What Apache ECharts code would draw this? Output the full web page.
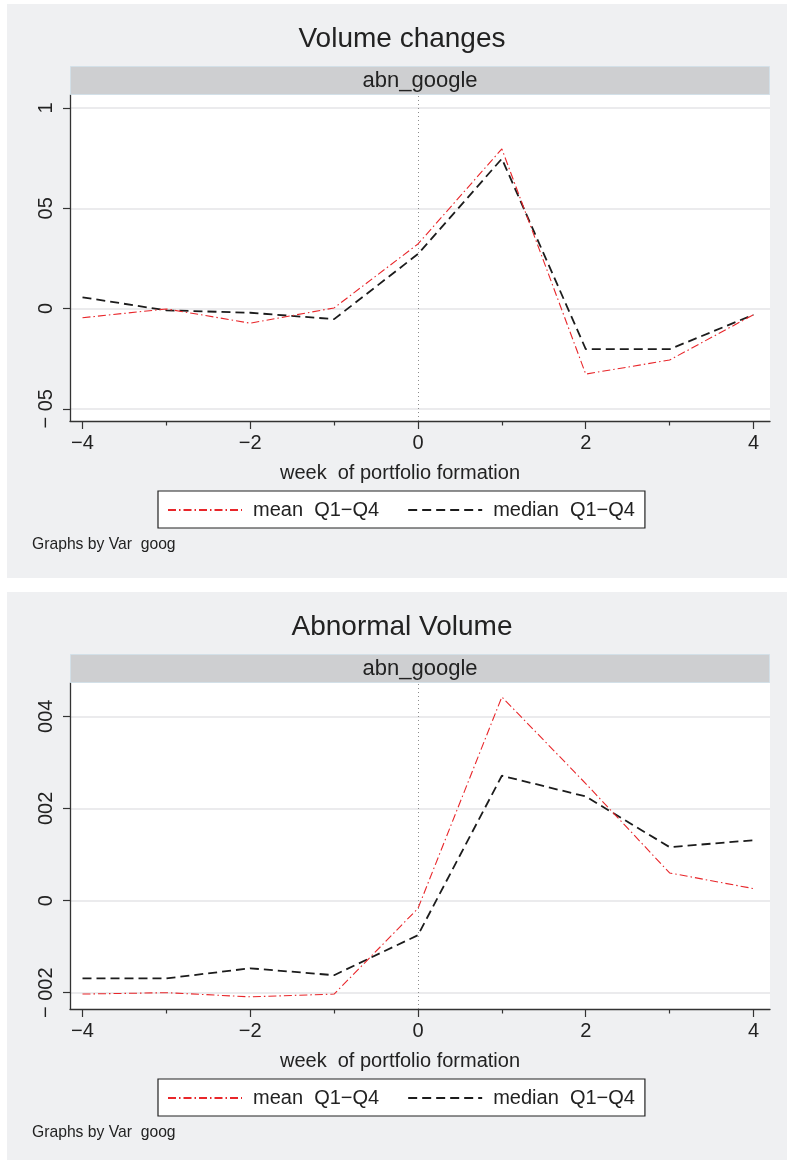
<!DOCTYPE html>
<html>
<head>
<meta charset="utf-8">
<script src="https://cdn.jsdelivr.net/npm/echarts@6/dist/echarts.min.js"></script>
<style>
html,body{margin:0;padding:0;background:#ffffff;}
#c{width:787px;height:1160px;}
</style>
</head>
<body>
<div id="c"></div>
<script>
// ---------------- data ----------------
const weeks = [-4, -3, -2, -1, 0, 1, 2, 3, 4];
const volMean   = [-0.0046, -0.0002, -0.0073, 0.0003, 0.0322, 0.0796, -0.0327, -0.0257, -0.0031];
const volMedian = [0.0056, -0.0009, -0.0021, -0.0053, 0.0272, 0.0747, -0.0202, -0.0203, -0.0031];
const abnMean   = [-0.00203, -0.00200, -0.00209, -0.00203, -0.00017, 0.00442, 0.00254, 0.00060, 0.00026];
const abnMedian = [-0.00169, -0.00169, -0.00147, -0.00162, -0.00075, 0.00271, 0.00226, 0.00116, 0.00131];

const xMajorTicks = [-4, -2, 0, 2, 4];
const xMajorLabels = ['\u22124', '\u22122', '0', '2', '4'];
const xMinorTicks = [-3, -1, 1, 3];
const volTicks = [-0.05, 0, 0.05, 0.1];
const volTickLabels = ['\u2212 05', '0', '05', '1'];
const abnTicks = [-0.002, 0, 0.002, 0.004];
const abnTickLabels = ['\u2212 002', '0', '002', '004'];

const titles = ['Volume changes', 'Abnormal Volume'];
const stripLabel = 'abn_google';
const xTitle = 'week  of portfolio formation';
const seriesNames = ['mean  Q1\u2212Q4', 'median  Q1\u2212Q4'];
const noteText = 'Graphs by Var  goog';

// ---------------- layout / style ----------------
const FONT = '"Liberation Sans", Arial, Helvetica, sans-serif';
const TXT = '#222222';
const offs = [0, 588];
const yRanges = [[-0.0561, 0.1065], [-0.002354, 0.004723]];
const xRange = [-4.149, 4.197];
const yTickSets = [volTicks, abnTicks];
const yLabelSets = [volTickLabels, abnTickLabels];
const seriesData = [[volMean, volMedian], [abnMean, abnMedian]];

function lookup(ticks, labels, v) {
  for (let i = 0; i < ticks.length; i++) {
    if (Math.abs(ticks[i] - v) < 1e-9) return labels[i];
  }
  return '';
}

const grid = [], xAxis = [], yAxis = [], series = [], legend = [], graphicEls = [];

[0, 1].forEach(function (p) {
  const o = offs[p];
  grid.push({left: 70, top: 95 + o, width: 700, height: 326, show: true,
             backgroundColor: '#ffffff', borderWidth: 0, containLabel: false});
  xAxis.push({
    type: 'value', gridIndex: p, min: xRange[0], max: xRange[1],
    axisLine: {show: true, onZero: false, lineStyle: {color: '#333333', width: 1.3}},
    axisTick: {show: true, length: 8, customValues: xMajorTicks, lineStyle: {color: '#333333', width: 1.2}},
    axisLabel: {show: true, customValues: xMajorTicks, margin: 12, fontSize: 20, color: TXT, fontFamily: FONT,
      formatter: function (v) { return lookup(xMajorTicks, xMajorLabels, v); }},
    splitLine: {show: false}
  });
  const yt = yTickSets[p], yl = yLabelSets[p];
  yAxis.push({
    type: 'value', gridIndex: p, min: yRanges[p][0], max: yRanges[p][1],
    axisLine: {show: true, onZero: false, lineStyle: {color: '#333333', width: 1.3}},
    axisTick: {show: true, length: 7, customValues: yt, lineStyle: {color: '#333333', width: 1.2}},
    axisLabel: {show: true, customValues: yt, rotate: 90, margin: 14, fontSize: 20, color: TXT, fontFamily: FONT,
      formatter: function (v) { return lookup(yt, yl, v); }},
    splitLine: {show: true, lineStyle: {color: '#e4e5e7', width: 1.5}}
  });
  const d = seriesData[p];
  series.push({
    name: seriesNames[0], type: 'line', xAxisIndex: p, yAxisIndex: p,
    data: weeks.map(function (w, i) { return [w, d[0][i]]; }),
    symbol: 'none', z: 4,
    itemStyle: {color: 'rgba(0,0,0,0)'},
    lineStyle: {color: '#e8262a', width: 1.1, type: [8, 3, 1.5, 3]},
    markLine: {silent: true, symbol: 'none', label: {show: false},
      lineStyle: {color: '#8c8c8c', type: [1, 3], width: 1},
      data: [{xAxis: 0}]}
  });
  series.push({
    name: seriesNames[1], type: 'line', xAxisIndex: p, yAxisIndex: p,
    data: weeks.map(function (w, i) { return [w, d[1][i]]; }),
    symbol: 'none', z: 3,
    itemStyle: {color: 'rgba(0,0,0,0)'},
    lineStyle: {color: '#1c1c1c', width: 1.8, type: [9, 5]}
  });
  legend.push({
    left: 158, top: 491 + o, orient: 'horizontal', data: seriesNames,
    itemWidth: 74, itemHeight: 14, itemGap: 28,
    padding: [9, 10, 8, 9],
    backgroundColor: '#ffffff', borderColor: '#222222', borderWidth: 1.2,
    selectedMode: false,
    itemStyle: {opacity: 0},
    textStyle: {fontSize: 20, color: TXT, fontFamily: FONT, padding: [0, 0, 0, 6]}
  });
  graphicEls.push({type: 'rect', z: -100, silent: true,
    shape: {x: 7, y: 4 + o, width: 780, height: 574}, style: {fill: '#eff0f2'}});
  graphicEls.push({type: 'rect', z: 10, silent: true,
    shape: {x: 70.5, y: 66.5 + o, width: 699, height: 28},
    style: {fill: '#cecfd1', stroke: '#d3e0e8', lineWidth: 1}});
  graphicEls.push({type: 'text', z: 11, silent: true, x: 420, y: 81 + o,
    style: {text: stripLabel, fill: TXT, font: '22px ' + FONT, textAlign: 'center', textVerticalAlign: 'middle'}});
  graphicEls.push({type: 'text', z: 11, silent: true, x: 402, y: 39 + o,
    style: {text: titles[p], fill: TXT, font: '28px ' + FONT, textAlign: 'center', textVerticalAlign: 'middle'}});
  graphicEls.push({type: 'text', z: 11, silent: true, x: 400, y: 473 + o,
    style: {text: xTitle, fill: TXT, font: '20px ' + FONT, textAlign: 'center', textVerticalAlign: 'middle'}});
  graphicEls.push({type: 'text', z: 11, silent: true, x: 32, y: 545 + o,
    style: {text: noteText, fill: TXT, font: '15.7px ' + FONT, textAlign: 'left', textVerticalAlign: 'middle'}});
});

// overlay grids for the minor x ticks (same geometry as main grids)
[0, 1].forEach(function (p) {
  const o = offs[p];
  const gi = grid.length;
  grid.push({left: 70, top: 95 + o, width: 700, height: 326, show: false});
  xAxis.push({
    type: 'value', gridIndex: gi, min: xRange[0], max: xRange[1],
    axisLine: {show: false, onZero: false},
    axisTick: {show: true, length: 4.5, customValues: xMinorTicks, lineStyle: {color: '#333333', width: 1.2}},
    axisLabel: {show: false},
    splitLine: {show: false}
  });
  yAxis.push({type: 'value', gridIndex: gi, min: 0, max: 1, show: false});
});

const chart = echarts.init(document.getElementById('c'), null, {renderer: 'canvas'});
chart.setOption({
  animation: false,
  backgroundColor: '#ffffff',
  grid: grid, xAxis: xAxis, yAxis: yAxis, series: series, legend: legend,
  graphic: {elements: graphicEls}
});
</script>
</body>
</html>
